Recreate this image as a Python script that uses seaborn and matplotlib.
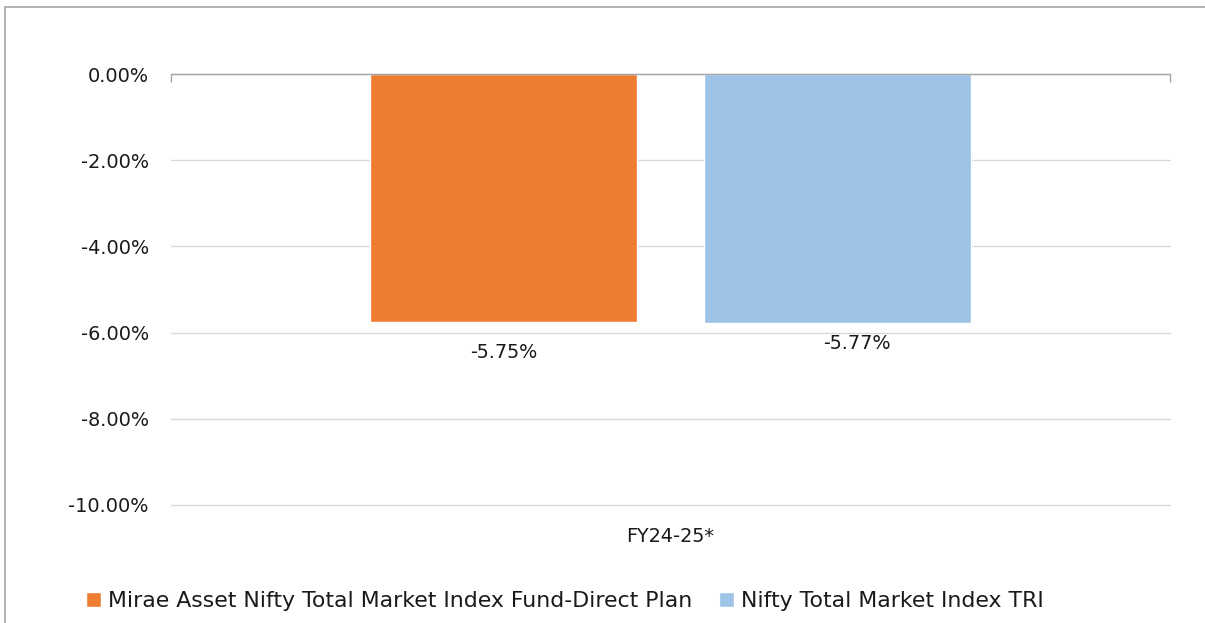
import matplotlib
matplotlib.use('Agg')
import matplotlib.pyplot as plt
import matplotlib.patches as mpatches
from matplotlib.ticker import FuncFormatter, FixedLocator
import seaborn as sns
import pandas as pd

# data
category = ["FY24-25*"]
series = ["Mirae Asset Nifty Total Market Index Fund-Direct Plan", "Nifty Total Market Index TRI"]
values = [-5.75, -5.77]
colors = ["#ED7D31", "#9DC3E6"]

# value label offsets in points (the second label sits off-centre in the original)
label_offsets = [(0, -15), (14, -8)]

df = pd.DataFrame({"period": category * len(series), "series": series, "ret": values})

sns.set_style("white")
plt.rcParams['font.family'] = ['DejaVu Sans']

fig = plt.figure(figsize=(12.05, 6.23), dpi=100)
ax = fig.add_axes([171 / 1205, 1 - 505 / 623, (1170 - 171) / 1205, (505 - 74) / 623])

sns.barplot(data=df, x="period", y="ret", hue="series", palette=colors, saturation=1,
            width=0.668, gap=0.2, ax=ax, legend=True)

# value labels under the bars
for cont, (dx, dy) in zip(ax.containers, label_offsets):
    for bar, v in zip(cont, cont.datavalues):
        ax.annotate(f"{v:.2f}%", (bar.get_x() + bar.get_width() / 2, v),
                    xytext=(dx, dy), textcoords="offset points",
                    ha="center", va="top", fontsize=13.8, color="#1a1a1a")

ax.set_ylim(-10, 0)
ax.set_xlim(-0.5, 0.5)
ax.set_yticks([0, -2, -4, -6, -8, -10])
ax.yaxis.set_major_formatter(FuncFormatter(lambda v, p: f"{v:.2f}%"))
ax.grid(axis="y", color="#d9d9d9", linewidth=1)
for gl in ax.get_ygridlines():
    gl.set_clip_on(False)
ax.set_axisbelow(True)
ax.set_xlabel("")
ax.set_ylabel("")

for s in ["left", "right", "bottom"]:
    ax.spines[s].set_visible(False)
ax.spines["top"].set_visible(True)
ax.spines["top"].set_color("#a6a6a6")
ax.spines["top"].set_linewidth(1)

ax.tick_params(axis="y", length=0, labelsize=13.9, labelcolor="#1a1a1a", pad=16)
ax.tick_params(axis="x", which="major", length=0, labelsize=13.9, labelcolor="#1a1a1a", pad=16)
ax.xaxis.set_minor_locator(FixedLocator([-0.5, 0.5]))
ax.tick_params(axis="x", which="minor", top=True, bottom=False, direction="in",
               length=6, color="#a6a6a6", width=1)

leg = ax.legend(loc="center", bbox_to_anchor=(565 / 1205, 1 - 601 / 623), bbox_transform=fig.transFigure,
                ncol=2, frameon=False, fontsize=15.8, handlelength=0.68, handleheight=0.68,
                handletextpad=0.32, columnspacing=1.2, labelcolor="#1a1a1a")

# outer chart frame (top and left edges are visible)
frame = mpatches.Rectangle((5 / 1205, -0.1), 1.2, 1 - 7 / 623 + 0.1, transform=fig.transFigure,
                           fill=False, edgecolor="#a6a6a6", linewidth=1.2, clip_on=False)
fig.patches.append(frame)

fig.savefig("out.png", dpi=100)
